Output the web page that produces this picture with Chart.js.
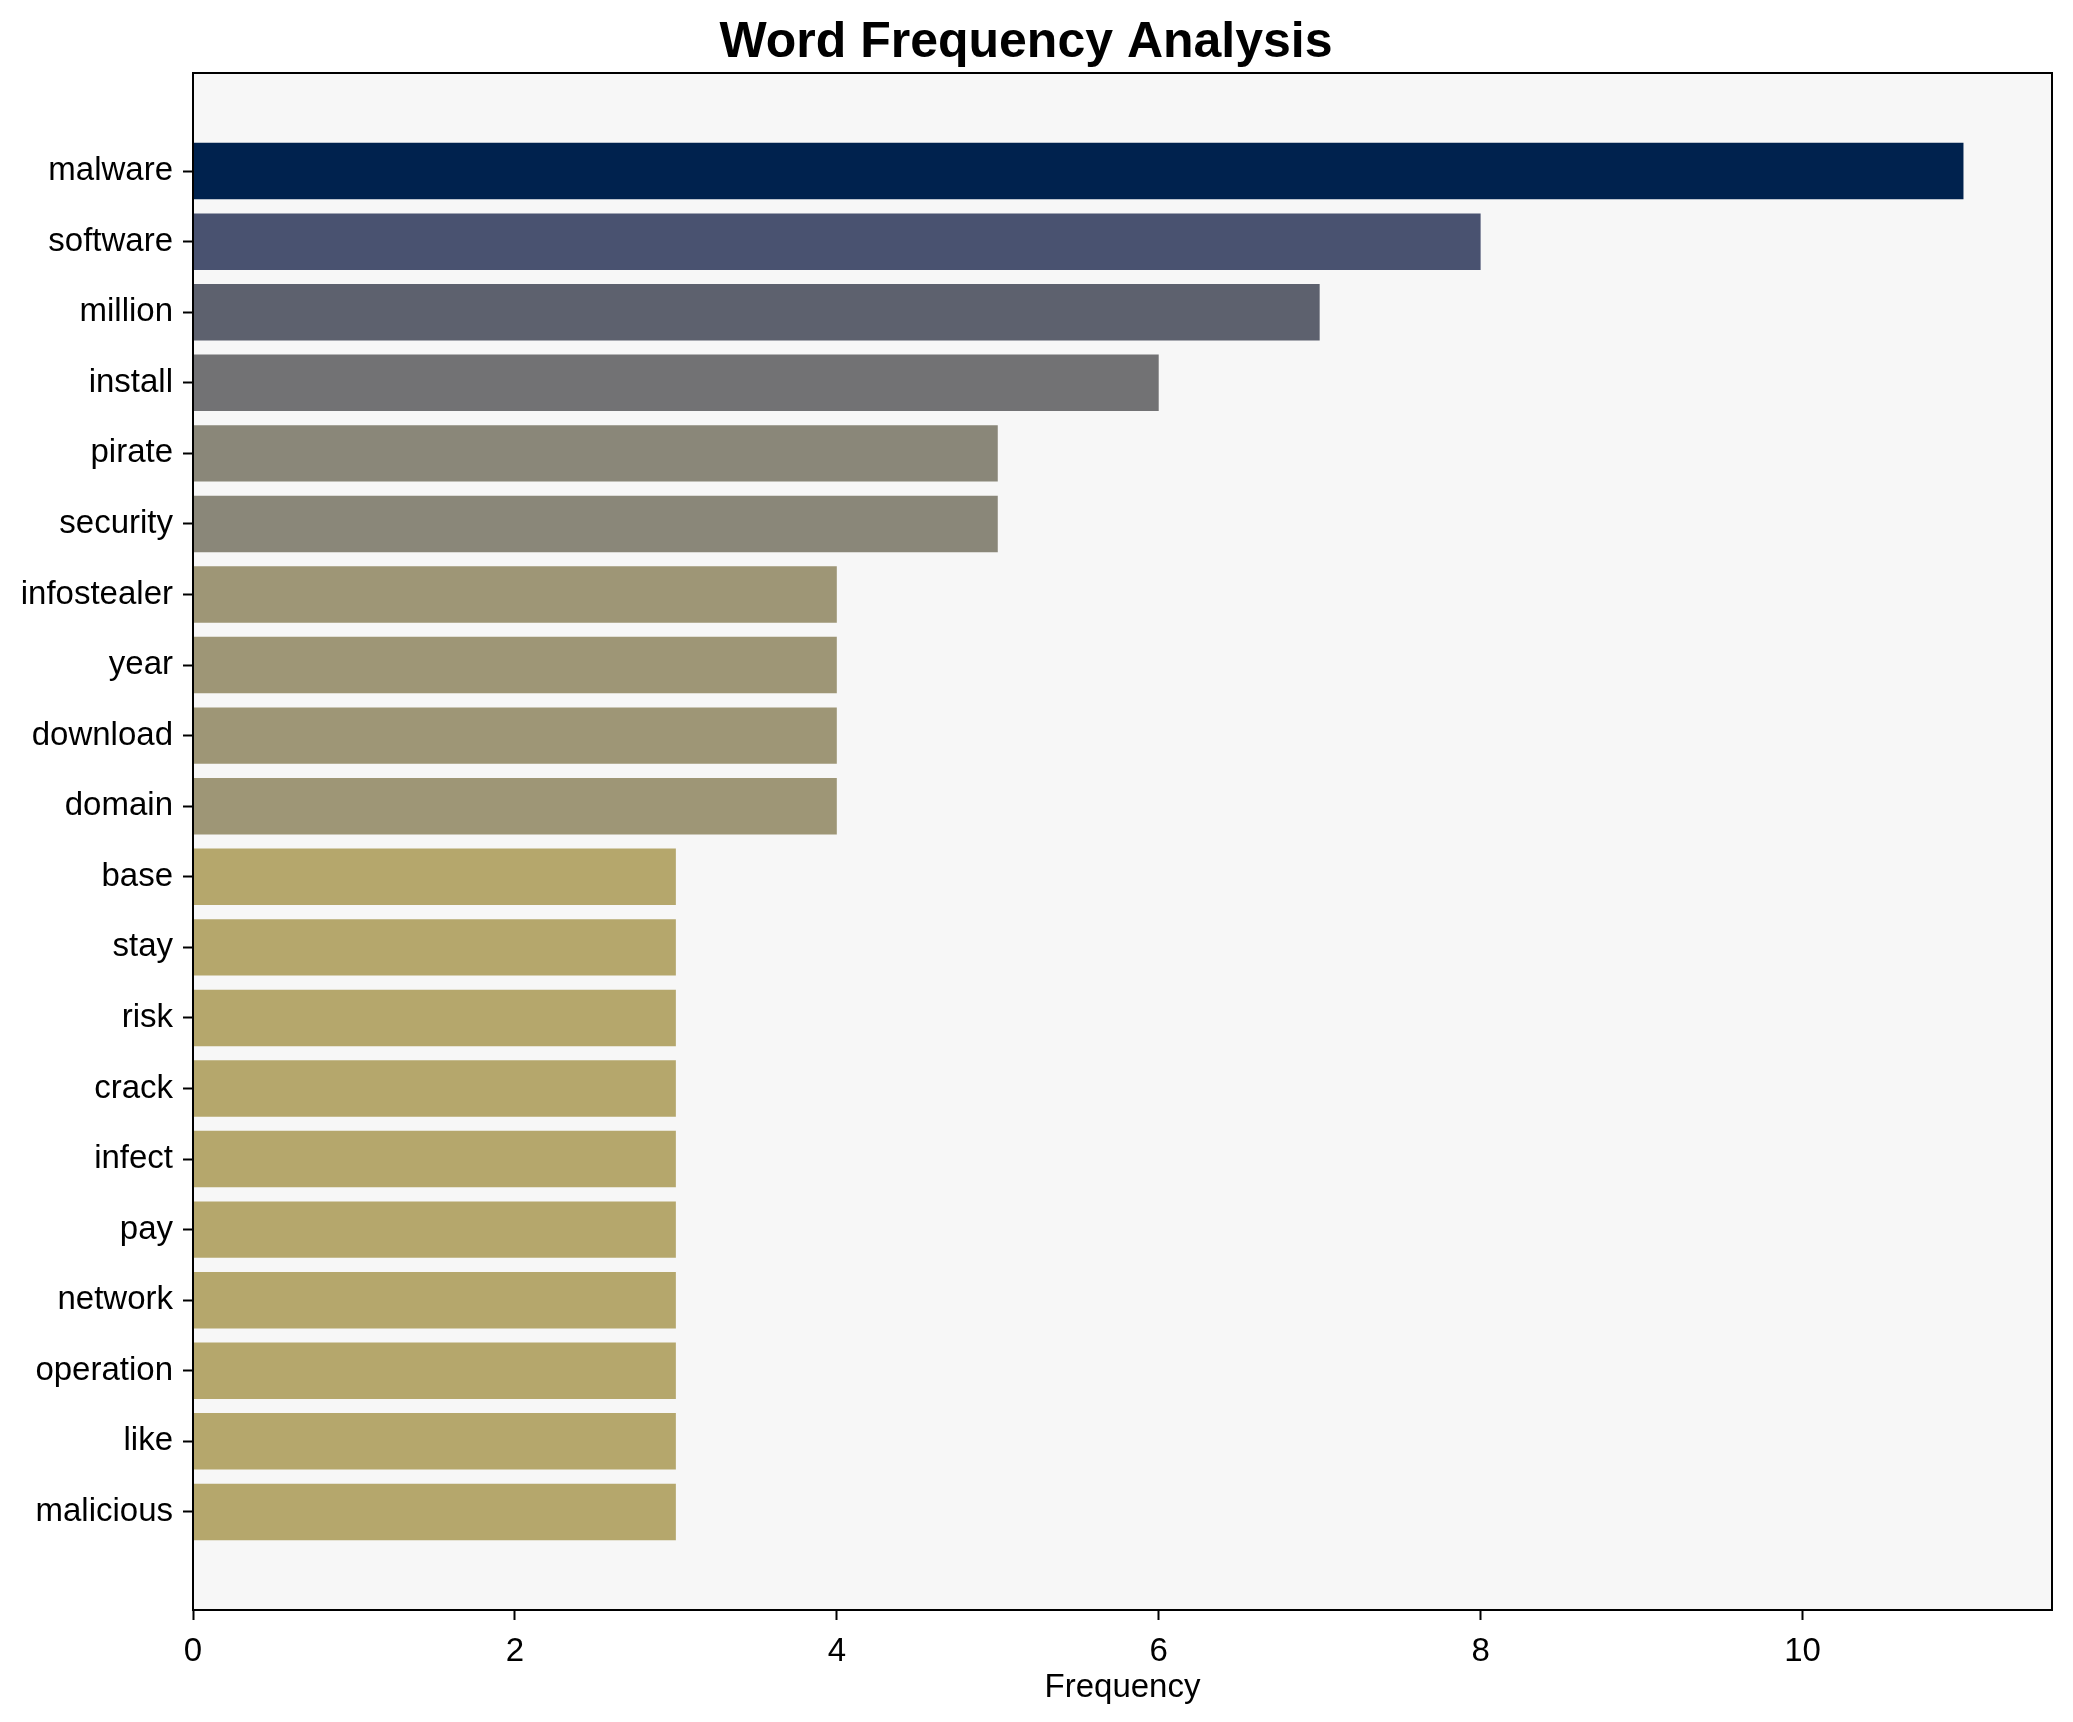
<!DOCTYPE html>
<html>
<head>
<meta charset="utf-8">
<script src="https://cdn.jsdelivr.net/npm/chart.js@4.4.1/dist/chart.umd.min.js"></script>
<style>
  html, body { margin: 0; padding: 0; background: #fff; }
  #wrap { width: 2073px; height: 1722px; }
</style>
</head>
<body>
<div id="wrap"><canvas id="chart-words" width="2073" height="1722"></canvas></div>
<script>
// words in display order (top to bottom) and their counts
const WORDS = ["malware", "software", "million", "install", "pirate", "security",
  "infostealer", "year", "download", "domain", "base", "stay", "risk", "crack",
  "infect", "pay", "network", "operation", "like", "malicious"];
const COUNTS = [11, 8, 7, 6, 5, 5, 4, 4, 4, 4, 3, 3, 3, 3, 3, 3, 3, 3, 3, 3];
const BAR_COLORS = ["#00224e", "#495270", "#5d616e", "#727274", "#8a8779", "#8a8779",
  "#9e9676", "#9e9676", "#9e9676", "#9e9676", "#b5a76c", "#b5a76c", "#b5a76c",
  "#b5a76c", "#b5a76c", "#b5a76c", "#b5a76c", "#b5a76c", "#b5a76c", "#b5a76c"];
const X_TICK_STEP = 2;

const FONT = "'Liberation Sans', Arial, Helvetica, sans-serif";
Chart.defaults.font.family = FONT;
Chart.defaults.color = "#000";

// matplotlib-like axes box: light fill behind, black frame on top
const axesBox = {
  id: "axesBox",
  beforeDraw(chart) {
    const { ctx, chartArea: a } = chart;
    ctx.save();
    ctx.fillStyle = "#f7f7f7";
    ctx.fillRect(a.left, a.top, a.right - a.left, a.bottom - a.top);
    ctx.restore();
  },
  afterDraw(chart) {
    const { ctx, chartArea: a } = chart;
    ctx.save();
    ctx.strokeStyle = "#000";
    ctx.lineWidth = 2;
    ctx.strokeRect(a.left, a.top, a.right - a.left, a.bottom - a.top);
    ctx.restore();
  },
};

const xMax = Math.max(...COUNTS) * 1.05;
const yPad = 0.4 + (WORDS.length - 1 + 0.8) * 0.05;

new Chart(document.getElementById("chart-words"), {
  type: "bar",
  data: {
    datasets: [{
      data: COUNTS.map((c, i) => ({ x: c, y: i })),
      backgroundColor: BAR_COLORS,
      borderWidth: 0,
      barPercentage: 1.0,
      categoryPercentage: 0.8,
    }],
  },
  options: {
    indexAxis: "y",
    responsive: false,
    animation: false,
    devicePixelRatio: 1,
    layout: { padding: { left: 0, right: 21, top: 0, bottom: 0 } },
    plugins: {
      legend: { display: false },
      tooltip: { enabled: false },
      title: {
        display: true,
        text: "Word Frequency Analysis",
        color: "#000",
        font: { size: 50, weight: "bold", family: FONT },
        padding: { top: 13, bottom: 0 },
      },
    },
    scales: {
      x: {
        type: "linear",
        min: 0,
        max: xMax,
        grid: { drawOnChartArea: false, drawTicks: true, tickLength: 10, tickColor: "#000", tickWidth: 2 },
        border: { display: true, color: "#000", width: 2 },
        ticks: { stepSize: X_TICK_STEP, includeBounds: false, padding: 12, font: { size: 33 }, color: "#000", maxRotation: 0 },
        title: { display: true, text: "Frequency", color: "#000", font: { size: 33 }, padding: { top: 0, bottom: 14 } },
        afterFit: (s) => { s.height = 112; },
      },
      y: {
        type: "linear",
        reverse: true,
        offset: false,
        min: -yPad,
        max: WORDS.length - 1 + yPad,
        afterBuildTicks: (axis) => { axis.ticks = WORDS.map((w, i) => ({ value: i })); },
        grid: { offset: false, drawOnChartArea: false, drawTicks: true, tickLength: 10, tickColor: "#000", tickWidth: 2 },
        border: { display: true, color: "#000", width: 2 },
        ticks: {
          autoSkip: false,
          padding: 10,
          font: { size: 33 },
          color: "#000",
          callback: (v) => WORDS[v],
        },
        afterFit: (s) => { s.width = 193; },
      },
    },
  },
  plugins: [axesBox],
});
</script>
</body>
</html>
